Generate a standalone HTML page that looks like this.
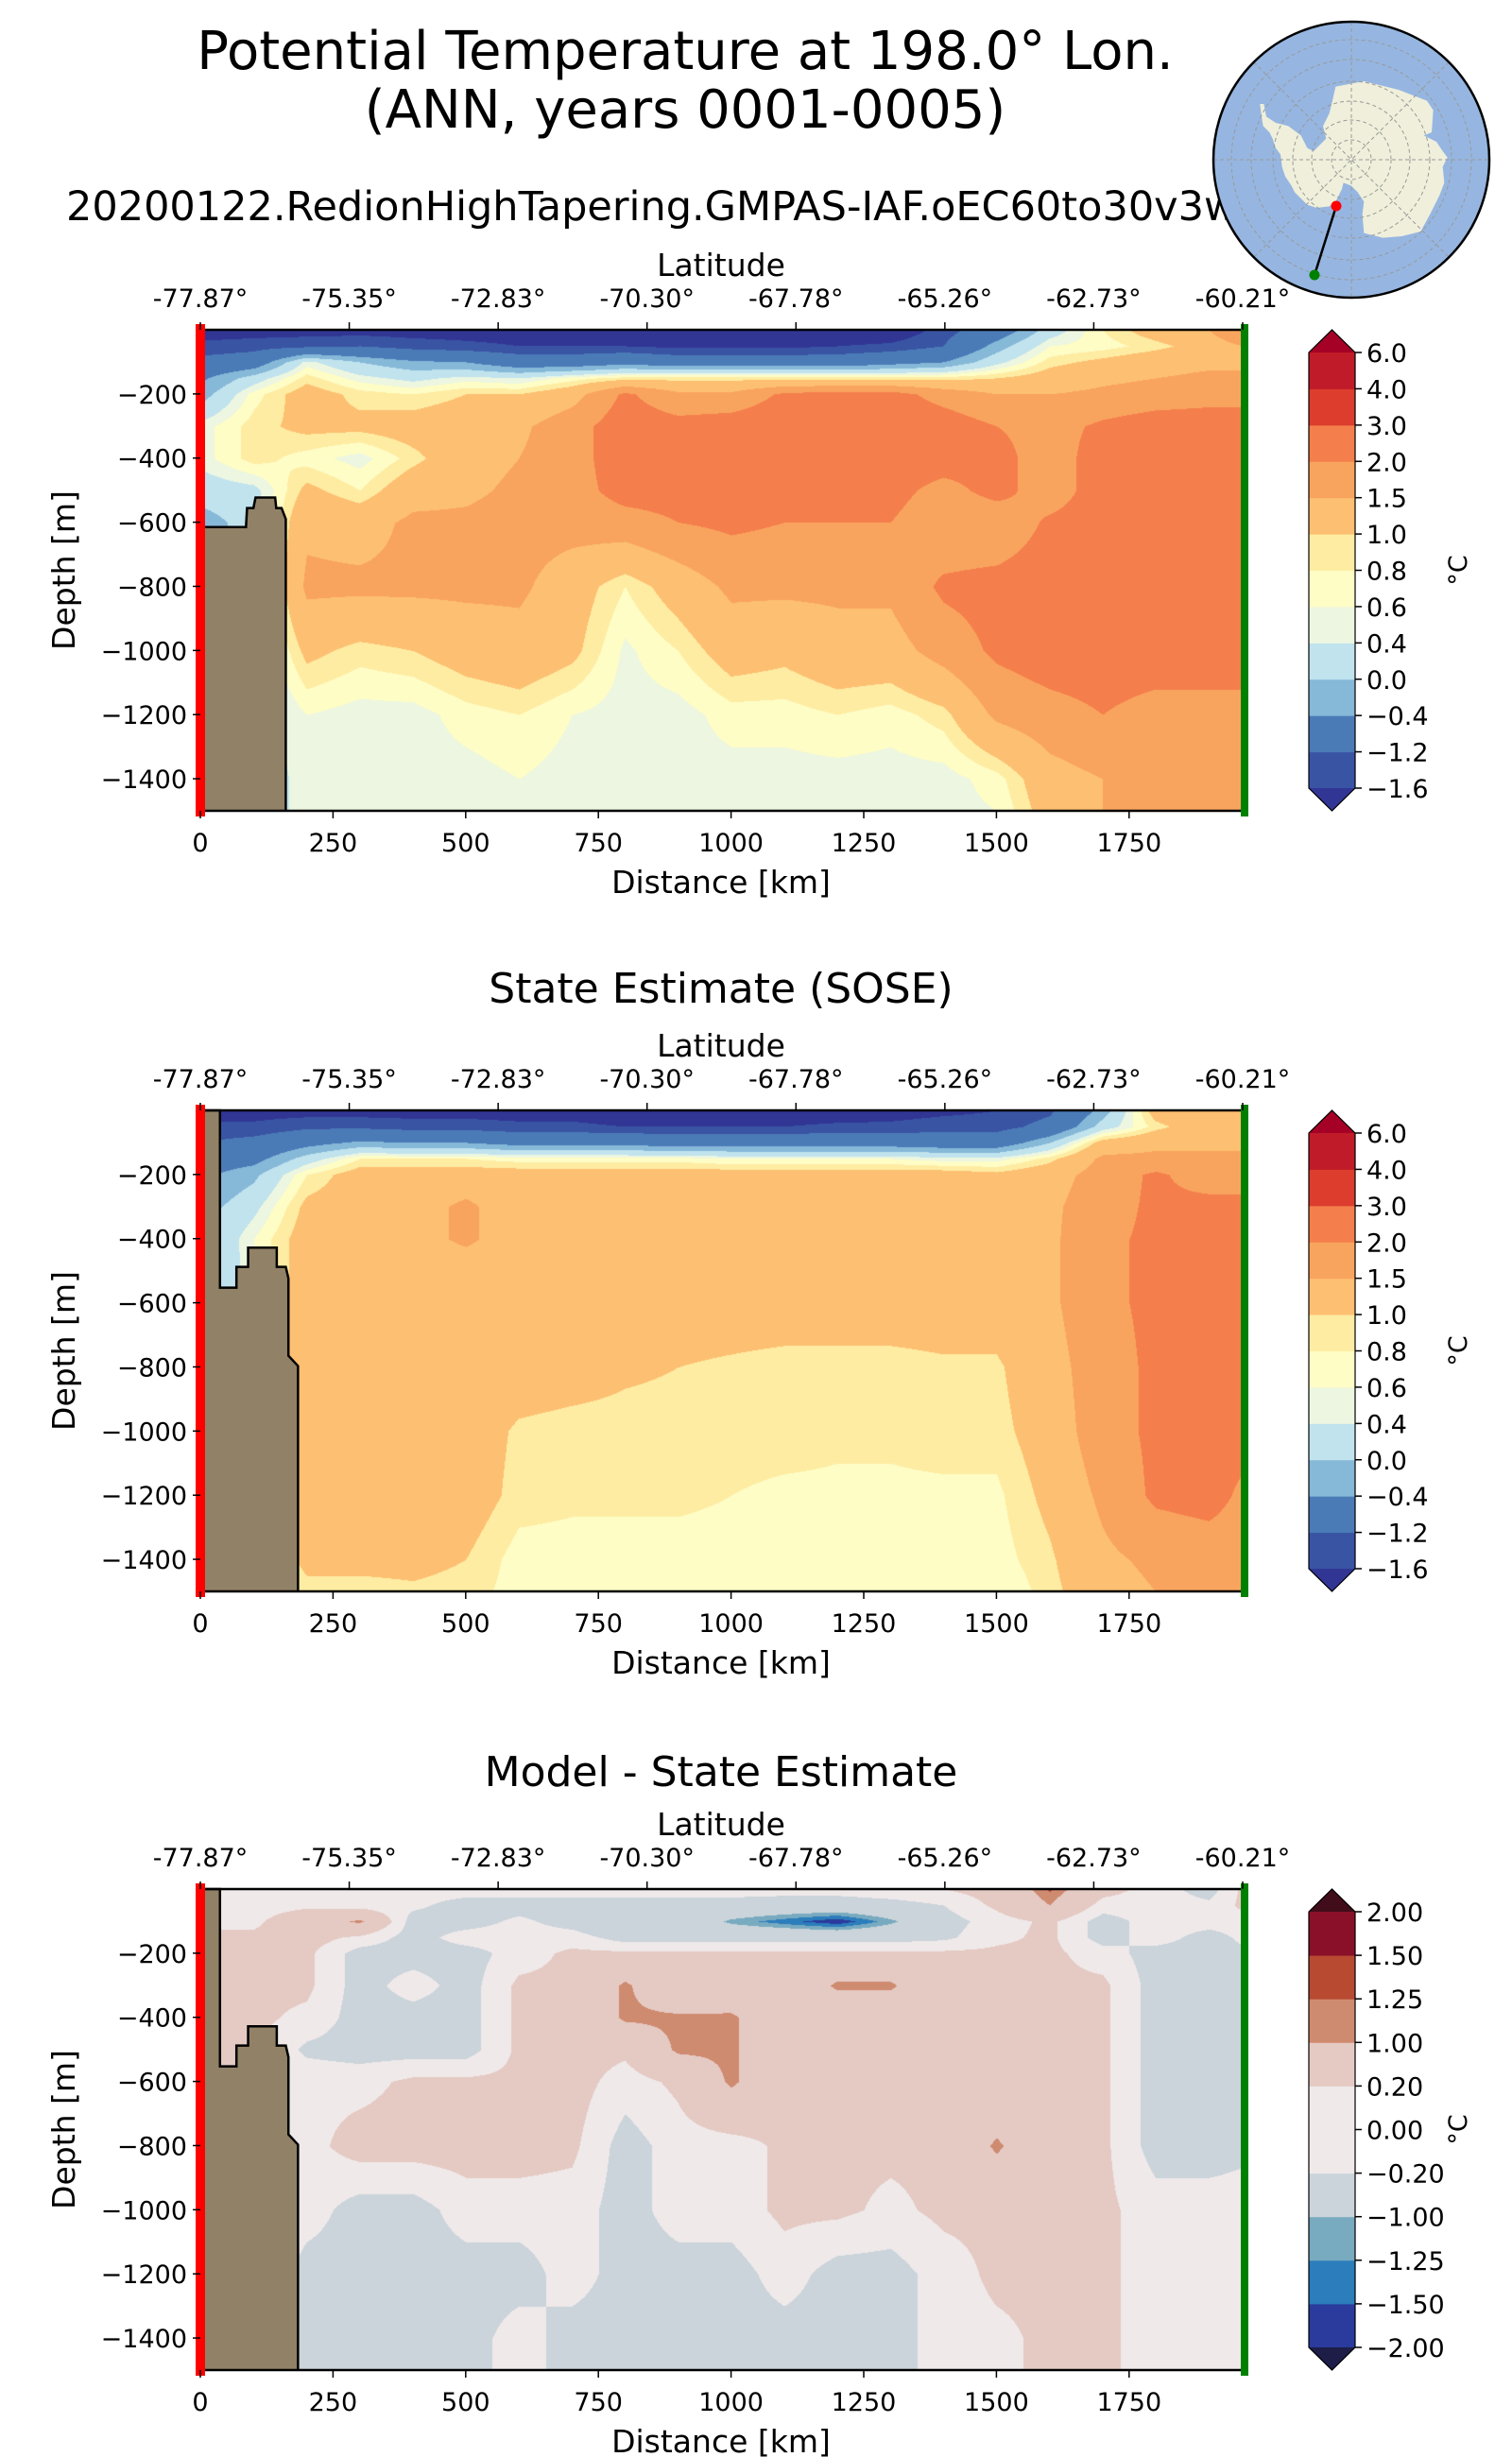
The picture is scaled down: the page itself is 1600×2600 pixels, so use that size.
<!DOCTYPE html>
<html><head><meta charset="utf-8">
<style>
html,body{margin:0;padding:0;background:#fff;}
#wrap{position:relative;width:1600px;height:2600px;overflow:hidden;background:#fff;}
canvas{position:absolute;}
svg{position:absolute;left:0;top:0;}
text{font-family:"DejaVu Sans","Liberation Sans",sans-serif;fill:#000;}
</style></head>
<body>
<div id="wrap">
<canvas id="c1" width="1103" height="509" style="left:212px;top:349px"></canvas>
<canvas id="c2" width="1103" height="509" style="left:212px;top:1175px"></canvas>
<canvas id="c3" width="1103" height="509" style="left:212px;top:1999px"></canvas>
<svg id="ov" width="1600" height="2600" viewBox="0 0 1600 2600"></svg>
</div>
<script>
// ---------- data ----------
const distKm = [0,100,200,300,400,500,600,700,800,900,1000,1100,1200,1300,1400,1500,1600,1700,1800,1900,1964];
const depthM = [0,50,100,150,200,300,400,500,600,800,1000,1200,1400,1500];
const latLabels = ["-77.87°","-75.35°","-72.83°","-70.30°","-67.78°","-65.26°","-62.73°","-60.21°"];
const distTicks = [0,250,500,750,1000,1250,1500,1750];
const depthTicks = [-200,-400,-600,-800,-1000,-1200,-1400];
const tempLevels = [-1.6,-1.2,-0.4,0.0,0.4,0.6,0.8,1.0,1.5,2.0,3.0,4.0,6.0];
const tempLevelLabels = ["\u22121.6","\u22121.2","\u22120.4","0.0","0.4","0.6","0.8","1.0","1.5","2.0","3.0","4.0","6.0"];
const diffLevels = [-2,-1.5,-1.25,-1,-0.2,0,0.2,1,1.25,1.5,2];
const diffLevelLabels = ["\u22122.00","\u22121.50","\u22121.25","\u22121.00","\u22120.20","0.00","0.20","1.00","1.25","1.50","2.00"];
const modelTemp = [
[-1.8,-1.5,-1.0,-0.5,-0.2,0.5,0.5,0.2,-0.2,-0.2,-0.2,-0.2,-0.2,-0.2],
[-1.8,-1.4,-0.8,0.2,0.7,0.9,0.9,0.3,0.2,0.2,0.2,0.2,0.2,0.2],
[-1.8,-1.3,0.5,0.9,1.2,1.1,0.7,1.1,1.4,1.6,1.1,0.6,0.5,0.5],
[-1.8,-1.2,0.0,0.5,0.9,1.1,0.5,0.8,1.3,1.6,0.9,0.5,0.5,0.5],
[-1.8,-1.4,-0.3,0.3,0.8,1.2,0.9,1.3,1.6,1.6,1.0,0.5,0.5,0.5],
[-1.8,-1.5,-0.4,0.5,1.0,1.3,1.3,1.4,1.6,1.6,1.2,0.7,0.5,0.5],
[-1.8,-1.6,-0.8,0.4,1.0,1.4,1.5,1.6,1.7,1.6,1.3,0.8,0.6,0.5],
[-1.9,-1.6,-0.8,0.7,1.3,1.8,1.8,1.8,1.7,1.2,1.1,0.6,0.5,0.5],
[-1.9,-1.6,-0.6,0.9,2.1,2.3,2.3,2.2,1.8,0.8,0.55,0.5,0.5,0.5],
[-1.9,-1.7,-0.8,0.9,1.6,2.2,2.3,2.2,2.0,1.2,0.8,0.5,0.5,0.5],
[-2.0,-1.7,-0.8,0.9,1.6,2.3,2.3,2.2,2.1,1.6,1.2,0.7,0.5,0.5],
[-2.0,-1.7,-0.8,0.9,2.1,2.4,2.4,2.3,2.0,1.6,1.1,0.7,0.5,0.5],
[-2.0,-1.6,-0.8,0.9,2.2,2.4,2.4,2.2,2.0,1.6,1.3,0.8,0.5,0.5],
[-2.0,-1.5,-0.6,0.9,2.2,2.4,2.4,2.2,2.0,1.6,1.3,0.7,0.5,0.5],
[-1.4,-1.2,-0.4,0.9,1.8,2.3,2.3,1.8,1.6,2.1,1.7,0.9,0.5,0.5],
[-0.8,-0.2,0.3,1.0,1.5,2.0,2.2,2.2,1.6,2.2,2.1,1.6,0.7,0.6],
[0.2,0.6,0.9,1.2,1.5,1.8,1.7,1.7,2.1,2.3,2.3,1.8,1.3,1.2],
[0.8,0.7,1.1,1.4,1.6,2.1,2.3,2.3,2.3,2.3,2.3,2.0,1.5,1.5],
[1.2,0.9,1.3,1.5,1.7,2.3,2.3,2.3,2.3,2.3,2.3,1.8,1.7,1.7],
[1.5,1.2,1.4,1.6,1.8,2.3,2.3,2.3,2.3,2.3,2.3,1.8,1.7,1.7],
[2.1,1.5,1.4,1.6,1.8,2.3,2.3,2.3,2.3,2.3,2.3,1.8,1.7,1.7]
];
const soseTemp = [
[-1.8,-1.5,-1.2,-0.8,-0.5,-0.2,-0.1,-0.2,-0.2,-0.2,-0.2,-0.2,-0.2,-0.2],
[-1.8,-1.5,-1.0,-0.6,-0.1,0.3,0.6,0.6,0.6,0.6,0.6,0.6,0.6,0.6],
[-1.8,-1.3,-0.6,0.2,0.8,1.1,1.2,1.2,1.2,1.2,1.2,1.2,1.1,0.9],
[-1.8,-1.3,-0.3,0.8,1.2,1.2,1.2,1.2,1.2,1.2,1.2,1.2,1.1,0.9],
[-1.8,-1.4,-0.4,0.8,1.2,1.3,1.3,1.2,1.2,1.2,1.2,1.2,1.1,0.95],
[-1.8,-1.4,-0.4,0.8,1.2,1.6,1.6,1.2,1.2,1.2,1.2,1.2,1.0,0.9],
[-1.8,-1.5,-0.6,0.7,1.2,1.2,1.2,1.2,1.2,1.2,0.95,0.9,0.7,0.7],
[-1.8,-1.5,-0.6,0.7,1.2,1.2,1.2,1.2,1.2,1.15,0.9,0.85,0.7,0.7],
[-1.9,-1.6,-0.6,0.7,1.2,1.2,1.2,1.2,1.2,1.05,0.9,0.85,0.7,0.7],
[-1.9,-1.6,-0.7,0.7,1.2,1.2,1.2,1.2,1.2,1.0,0.9,0.85,0.7,0.7],
[-1.9,-1.6,-0.7,0.6,1.2,1.2,1.2,1.2,1.2,0.95,0.9,0.8,0.7,0.7],
[-1.9,-1.6,-0.7,0.6,1.2,1.2,1.2,1.2,1.2,0.9,0.9,0.75,0.7,0.7],
[-1.9,-1.5,-0.7,0.6,1.2,1.2,1.2,1.2,1.2,0.9,0.85,0.75,0.7,0.7],
[-1.8,-1.5,-0.7,0.6,1.2,1.2,1.2,1.2,1.2,0.9,0.85,0.75,0.7,0.65],
[-1.7,-1.4,-0.8,0.5,1.2,1.2,1.2,1.2,1.2,0.95,0.9,0.75,0.7,0.6],
[-1.6,-1.4,-0.8,0.5,1.1,1.2,1.2,1.2,1.2,0.95,0.9,0.75,0.7,0.6],
[-1.3,-1.0,0.0,0.9,1.3,1.4,1.4,1.4,1.4,1.3,1.2,1.1,0.95,0.9],
[-0.2,0.2,1.2,1.6,1.7,1.8,1.9,1.9,1.9,1.8,1.8,1.6,1.4,1.3],
[1.2,0.9,1.4,1.6,2.1,2.1,2.1,2.1,2.1,2.1,2.1,2.1,1.6,1.5],
[1.3,1.3,1.4,1.6,1.7,2.2,2.2,2.2,2.2,2.2,2.2,2.2,1.7,1.6],
[1.3,1.3,1.4,1.6,1.7,2.2,2.2,2.2,2.2,2.2,2.2,1.9,1.7,1.6]
];
const diffTemp = [
[0,0,0.1,0.3,0.3,0.3,1.1,0.3,0.3,0.3,0.3,0.3,0.3,0.3],
[0,0,0.1,0.3,0.3,0.3,0.3,0.3,0.3,0.3,0.3,0.3,0.3,0.3],
[0,0.1,0.6,0.4,0.3,0.3,0.1,-0.3,0.1,0.05,0.0,-0.4,-0.4,-0.4],
[0,0,1.1,0.1,-0.4,-0.4,-0.4,-0.4,0.05,0.4,-0.4,-0.4,-0.4,-0.4],
[0,-0.1,-0.4,-0.4,-0.4,0.0,-0.4,-0.4,0.3,0.4,-0.4,-0.4,-0.4,-0.4],
[0,-0.4,-0.4,0.0,-0.4,-0.4,-0.4,-0.4,0.3,0.4,0.0,-0.4,-0.4,-0.4],
[0,-0.4,-0.1,0.0,0.0,0.3,0.3,0.3,0.3,0.4,0.0,-0.4,0.0,0.0],
[0,-0.4,-0.4,0.0,0.3,0.3,0.3,0.4,0.4,0.3,0.0,0.0,-0.4,-0.4],
[0,-0.4,-0.8,-0.4,0.3,1.1,1.1,0.3,0.0,-0.4,-0.4,-0.4,-0.4,-0.4],
[0,-0.4,-0.4,-0.4,0.3,0.3,1.1,1.1,0.3,0.0,0.0,-0.4,-0.4,-0.4],
[0,-0.4,-1.1,-0.4,0.3,0.4,1.1,1.1,1.1,0.0,0.0,-0.4,-0.4,-0.4],
[0,-0.5,-1.4,-0.4,0.3,0.4,0.4,0.4,0.4,0.3,0.3,0.0,-0.4,-0.4],
[0,-0.5,-1.7,-0.4,0.3,1.1,0.4,0.4,0.4,0.3,0.3,-0.4,-0.4,-0.4],
[0.1,-0.4,-1.1,-0.4,0.3,1.1,0.4,0.4,0.4,0.3,0.1,-0.4,-0.4,-0.4],
[0.2,-0.2,-0.4,-0.3,0.3,0.3,0.3,0.3,0.3,0.3,0.3,0.0,0.0,0.0],
[0.4,0.3,0.0,0.1,0.3,0.3,0.3,0.3,0.3,1.1,0.3,0.3,0.1,0.1],
[1.3,1.0,0.3,0.3,0.3,0.3,0.3,0.3,0.3,0.3,0.3,0.3,0.3,0.3],
[0.4,0.0,-0.4,-0.4,0.0,0.3,0.3,0.3,0.3,0.3,0.3,0.3,0.3,0.3],
[0,0,0,0,-0.4,-0.4,-0.4,-0.4,-0.4,-0.4,0.0,0.0,0.0,0.0],
[-0.4,-0.1,0,-0.4,-0.4,-0.4,-0.4,-0.4,-0.4,-0.4,0.0,0.0,0.0,0.0],
[0.3,0.3,0.0,-0.1,-0.3,-0.4,-0.4,-0.4,-0.4,-0.3,0.0,0.0,0.0,0.0]
];
const landModelKm = [0,86,88,100,104,141,143,153,161,161];
const landModelDepth = [615,615,556,556,523,523,556,556,590,1500];
const landSoseKm = [0,37,37,68,68,90,90,144,144,161,166,166,184,184];
const landSoseDepth = [0,0,553,553,488,488,428,428,488,488,524,765,797,1500];

// ---------- layout ----------
const AX_L=212, AX_R=1315, AX_H=509, MAXKM=1964, MAXD=1500;
const panelTops=[349,1175,1999];
function xOf(km){return AX_L + km*(AX_R-AX_L)/MAXKM;}
function yOf(d,top){return top + d*AX_H/MAXD;}
const tempColors=['#313695','#3a54a4','#4a7bb7','#86b8d8','#c0e3ee','#edf6e0','#fefdc6','#feeca2','#fdbf71','#f9a45e','#f47f4c','#dc3d2d','#c01b28','#a50026'];
const diffColors=['#1e1d47','#2a3b9d','#2b7dbb','#78aac0','#cad4da','#efe9e9','#efe9e9','#e5cac4','#cf8b70','#b84a32','#8a1029','#420d1a'];

function hex(c){return [parseInt(c.substr(1,2),16),parseInt(c.substr(3,2),16),parseInt(c.substr(5,2),16)];}
function idx(arr,v){let i=0;while(i<arr.length-2 && v>arr[i+1])i++;return i;}
function interp(grid,km,d){
  const i=idx(distKm,km), j=idx(depthM,d);
  const tx=Math.max(0,Math.min(1,(km-distKm[i])/(distKm[i+1]-distKm[i])));
  const ty=Math.max(0,Math.min(1,(d-depthM[j])/(depthM[j+1]-depthM[j])));
  const a=grid[i][j],b=grid[i+1][j],c=grid[i][j+1],e=grid[i+1][j+1];
  return (a*(1-tx)+b*tx)*(1-ty)+(c*(1-tx)+e*tx)*ty;
}
function levelIdx(levels,v){let k=0;while(k<levels.length && v>levels[k])k++;return k;}
function drawField(id,grid,levels,colors){
  const cv=document.getElementById(id),ctx=cv.getContext('2d');
  const W=cv.width,H=cv.height,img=ctx.createImageData(W,H);
  const rgb=colors.map(hex);
  for(let y=0;y<H;y++){const d=y*MAXD/H;
    for(let x=0;x<W;x++){const km=x*MAXKM/W;
      const c=rgb[levelIdx(levels,interp(grid,km,d))];
      const p=(y*W+x)*4;img.data[p]=c[0];img.data[p+1]=c[1];img.data[p+2]=c[2];img.data[p+3]=255;}}
  ctx.putImageData(img,0,0);
}
drawField('c1',modelTemp,tempLevels,tempColors);
drawField('c2',soseTemp,tempLevels,tempColors);
drawField('c3',diffTemp,diffLevels,diffColors);

// ---------- SVG overlay ----------
const NS='http://www.w3.org/2000/svg', ov=document.getElementById('ov');
function mk(tag,attrs,parent){const e=document.createElementNS(NS,tag);for(const k in attrs)e.setAttribute(k,attrs[k]);(parent||ov).appendChild(e);return e;}
function txt(s,x,y,size,anchor,extra,parent){const t=mk('text',Object.assign({x:x,y:y,'font-size':size,'text-anchor':anchor||'middle'},extra||{}),parent);t.textContent=s;return t;}

let e;
e=txt('Potential Temperature at 198.0° Lon.',725,73,56);


e=txt('(ANN, years 0001-0005)',725,135,56);


e=txt('20200122.RedionHighTapering.GMPAS-IAF.oEC60to30v3wLI.grizzly',70,233,43,'start');


e=txt('State Estimate (SOSE)',763,1061,44);


e=txt('Model - State Estimate',763,1890,44);



function panel(p,top,landKm,landD,levels,labels,colors,name){
  const g=mk('g',{});
  
  
  let pts=landKm.map((k,i)=>xOf(k)+','+yOf(landD[i],top));
  pts.push(xOf(0)+','+yOf(1500,top));
  const land=mk('polygon',{points:pts.join(' '),fill:'#918166',stroke:'none'},g);
  
  
  const edge=mk('polyline',{points:landKm.map((k,i)=>xOf(k)+','+yOf(landD[i],top)).join(' '),fill:'none',stroke:'#000','stroke-width':2.5},g);
  
  
  const fr=mk('rect',{x:AX_L,y:top,width:AX_R-AX_L,height:AX_H,fill:'none',stroke:'#000','stroke-width':2.5},g);
  
  
  const rl=mk('rect',{x:AX_L-5,y:top-6,width:10,height:AX_H+12,fill:'#ff0000'},g);
  
  
  const gl=mk('rect',{x:AX_R-2,y:top-6,width:8,height:AX_H+12,fill:'#008000'},g);
  
  
  distTicks.forEach(v=>{const x=xOf(v);
    mk('line',{x1:x,x2:x,y1:top+AX_H,y2:top+AX_H+8,stroke:'#000','stroke-width':1.5},g);
    const t=txt(String(v),x,top+AX_H+43,27,'middle');
    
    });
  latLabels.forEach((s,i)=>{const x=AX_L+i*(AX_R-AX_L)/7;
    mk('line',{x1:x,x2:x,y1:top,y2:top-8,stroke:'#000','stroke-width':1.5},g);
    const t=txt(s,x,top-24,27,'middle');
    
    });
  depthTicks.forEach(v=>{const y=yOf(-v,top);
    mk('line',{x1:AX_L,x2:AX_L-8,y1:y,y2:y,stroke:'#000','stroke-width':1.5},g);
    const t=txt('\u2212'+(-v),AX_L-14,y+10,27,'end');
    
    });
  let t=txt('Latitude',763,top-57,33);
  
  
  t=txt('Distance [km]',763,top+AX_H+87,33);
  
  
  t=txt('Depth [m]',0,0,33,'middle',{transform:'translate(79,'+(top+AX_H/2)+') rotate(-90)'});
  
  
  const cb=mk('g',{},g);
  
  
  const cx0=1385,cw=49,ctop=top+24,cbot=top+AX_H-24,n=levels.length-1,bh=(cbot-ctop)/n;
  for(let k=0;k<n;k++){
    const r=mk('rect',{x:cx0,y:cbot-(k+1)*bh,width:cw,height:bh+0.5,fill:colors[k+1]},cb);
    
    }
  mk('polygon',{points:`${cx0},${ctop} ${cx0+cw/2},${top} ${cx0+cw},${ctop}`,fill:colors[colors.length-1]},cb);
  mk('polygon',{points:`${cx0},${cbot} ${cx0+cw/2},${top+AX_H} ${cx0+cw},${cbot}`,fill:colors[0]},cb);
  mk('polygon',{points:`${cx0},${ctop} ${cx0+cw/2},${top} ${cx0+cw},${ctop} ${cx0+cw},${cbot} ${cx0+cw/2},${top+AX_H} ${cx0},${cbot}`,fill:'none',stroke:'#000','stroke-width':1.2},cb);
  labels.forEach((s,k)=>{const y=cbot-k*bh;
    mk('line',{x1:cx0+cw,x2:cx0+cw+7,y1:y,y2:y,stroke:'#000','stroke-width':1.5},cb);
    const lt=txt(s,cx0+cw+12,y+10,27,'start',{},cb);
    
    });
  t=txt('°C',0,0,27,'middle',{transform:'translate(1552,'+(top+AX_H/2)+') rotate(-90)'});
  
  
}
panel(0,panelTops[0],landModelKm,landModelDepth,tempLevels,tempLevelLabels,tempColors,'model');
panel(1,panelTops[1],landSoseKm,landSoseDepth,tempLevels,tempLevelLabels,tempColors,'sose');
panel(2,panelTops[2],landSoseKm,landSoseDepth,diffLevels,diffLevelLabels,diffColors,'difference');

// inset map
const map=mk('g',{});


const MCX=1430,MCY=169,MR=146;
mk('circle',{cx:MCX,cy:MCY,r:MR,fill:'#96b6e1'},map);
const ant=[[490,275],[580,258],[690,285],[780,320],[800,350],[795,420],[770,430],[810,450],[830,480],[845,500],[830,530],[835,580],[820,620],[790,680],[760,735],[700,750],[640,755],[580,740],[575,680],[580,640],[560,610],[540,590],[515,580],[510,600],[490,640],[470,655],[430,660],[400,650],[360,610],[350,590],[330,560],[320,530],[315,490],[300,470],[290,440],[280,420],[260,400],[255,370],[250,330],[262,330],[270,370],[300,390],[340,400],[380,430],[400,470],[420,480],[440,460],[460,440],[450,400],[470,360],[480,320]];
const antP=mk('polygon',{points:ant.map(p=>(p[0]/3+1250)+','+(p[1]/3)).join(' '),fill:'#efefdb'},map);


[21,42,62,83,106,127].forEach(r=>mk('circle',{cx:MCX,cy:MCY,r:r,fill:'none',stroke:'#999','stroke-width':1,'stroke-dasharray':'4,3'},map));
for(let a=0;a<4;a++){const ang=a*Math.PI/4;
  mk('line',{x1:MCX-MR*Math.cos(ang),y1:MCY-MR*Math.sin(ang),x2:MCX+MR*Math.cos(ang),y2:MCY+MR*Math.sin(ang),stroke:'#999','stroke-width':1,'stroke-dasharray':'4,3'},map);}
mk('circle',{cx:MCX,cy:MCY,r:MR,fill:'none',stroke:'#000','stroke-width':2.5},map);
const sl=mk('line',{x1:1414,y1:218,x2:1391,y2:291,stroke:'#000','stroke-width':2.5},map);


const sd=mk('circle',{cx:1414,cy:218,r:5.5,fill:'#ff0000'},map);


const ed=mk('circle',{cx:1391,cy:291,r:5.5,fill:'#008000'},map);


</script>
</body></html>
